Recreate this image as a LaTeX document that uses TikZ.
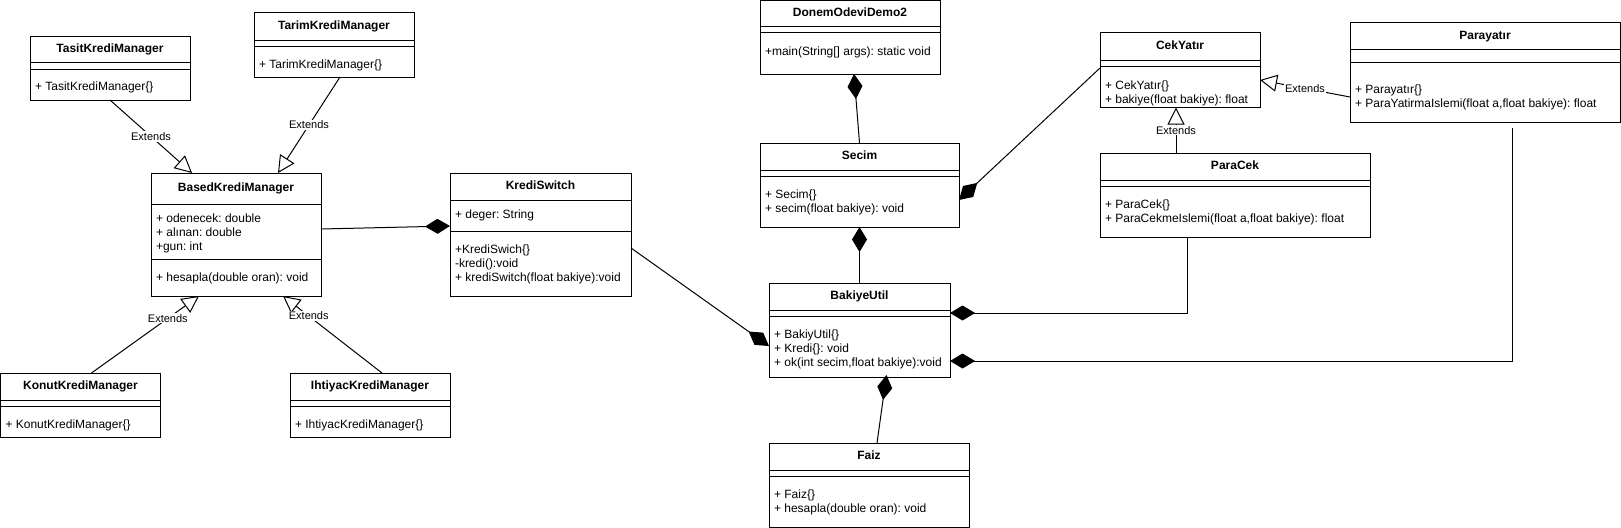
\documentclass[tikz,border=0pt]{standalone}
\usepackage{fontspec}
\setmainfont{Liberation Sans}
\usetikzlibrary{shapes.multipart, arrows.meta, calc}
\frenchspacing

% parts of a class box: title, empty part, body (height, top pad, lines)
\newcommand{\ctitle}[2]{\parbox[c][#1pt][c]{\cw}{\centering\bfseries\strut #2}}
\newcommand{\cempty}[1]{\parbox[c][#1pt]{\cw}{}}
\newcommand{\cbody}[3]{\parbox[c][#1pt][t]{\cw}{\raggedright\vspace*{#2pt}\strut #3}}

\begin{document}
\begin{tikzpicture}[x=1pt, y=-1pt, line width=1pt,
    font=\fontsize{12}{14}\selectfont,
    cls/.style={draw, rectangle split, rectangle split parts=3,
        inner xsep=5pt, inner ysep=0pt, outer sep=0pt, anchor=north west,
        /utils/exec={\def\cw{\dimexpr#1pt-10pt\relax}}},
    ext/.style={-{Triangle[open, length=17pt, width=17pt]}},
    comp/.style={{Diamond[length=25pt, width=15pt]}-},
    lbl/.style={fill=white, inner sep=1pt, font=\fontsize{11}{13}\selectfont}]
    \useasboundingbox (0,0) rectangle (1621,527);

    \node[cls=160] (tasit) at (30,37) {\ctitle{25}{TasitKrediManager}\nodepart{two}\cempty{4}\nodepart{three}\cbody{30}{11.2}{+ TasitKrediManager\{\}}};
    \node[cls=160] (tarim) at (254,13) {\ctitle{27}{TarimKrediManager}\nodepart{two}\cempty{4}\nodepart{three}\cbody{29}{11.2}{+ TarimKrediManager\{\}}};
    \node[cls=170] (bkm) at (151,173) {\ctitle{30}{BasedKrediManager}\nodepart{two}\cbody{54}{8.2}{+ odenecek: double\\+ alınan: double\\+gun: int}\nodepart{three}\cbody{36}{12.2}{+ hesapla(double oran): void}};
    \node[cls=160] (konut) at (0.5,373) {\ctitle{26}{KonutKrediManager}\nodepart{two}\cempty{4}\nodepart{three}\cbody{30}{12.2}{+ KonutKrediManager\{\}}};
    \node[cls=160] (iht) at (290,373) {\ctitle{26}{IhtiyacKrediManager}\nodepart{two}\cempty{4}\nodepart{three}\cbody{30}{12.2}{+ IhtiyacKrediManager\{\}}};
    \node[cls=181] (ks) at (450,173) {\ctitle{26}{KrediSwitch}\nodepart{two}\cbody{30}{8.2}{+ deger: String}\nodepart{three}\cbody{64}{12.2}{+KrediSwich\{\}\\-kredi():void\\+ krediSwitch(float bakiye):void}};
    \node[cls=180] (dem) at (760,0.5) {\ctitle{25.5}{DonemOdeviDemo2}\nodepart{two}\cempty{4}\nodepart{three}\cbody{40}{12.2}{+main(String[] args): static void}};
    \node[cls=199] (sec) at (760,143) {\ctitle{26}{Secim}\nodepart{two}\cempty{4}\nodepart{three}\cbody{50}{12.2}{+ Secim\{\}\\+ secim(float bakiye): void}};
    \node[cls=181] (bu) at (769,283) {\ctitle{26}{BakiyeUtil}\nodepart{two}\cempty{4}\nodepart{three}\cbody{60}{12.2}{+ BakiyUtil\{\}\\+ Kredi\{\}: void\\+ ok(int secim,float bakiye):void}};
    \node[cls=200] (fz) at (769,443) {\ctitle{26}{Faiz}\nodepart{two}\cempty{4}\nodepart{three}\cbody{50}{12.2}{+ Faiz\{\}\\+ hesapla(double oran): void}};
    \node[cls=160] (cek) at (1100,33) {\ctitle{27}{CekYatır}\nodepart{two}\cempty{3}\nodepart{three}\cbody{40}{12.2}{+ CekYatır\{\}\\+ bakiye(float bakiye): float}};
    \node[cls=270] (pc) at (1100,153) {\ctitle{26}{ParaCek}\nodepart{two}\cempty{4}\nodepart{three}\cbody{50}{12.2}{+ ParaCek\{\}\\+ ParaCekmeIslemi(float a,float bakiye): float}};
    \node[cls=270] (py) at (1350,23) {\ctitle{26}{Parayatır}\nodepart{two}\cempty{12}\nodepart{three}\cbody{58}{20.2}{+ Parayatır\{\}\\+ ParaYatirmaIslemi(float a,float bakiye): float}};

    \draw
    (tasit.south) edge[ext] node[lbl]{Extends} ($(bkm.north west)+(41,0)$)
    ($(tarim.south)+(6,0)$) edge[ext] node[lbl]{Extends} ($(bkm.north west)+(127,0)$)
    ($(konut.north west)+(91,0)$) edge[ext] node[lbl, pos=0.71]{Extends} ($(bkm.south west)+(48,0)$)
    ($(iht.north west)+(92,0)$) edge[ext] node[lbl, pos=0.74]{Extends} ($(bkm.south west)+(132,0)$)
    ($(pc.north west)+(76,0)$) edge[ext] node[lbl]{Extends} ($(cek.south west)+(76,0)$)
    ($(py.north west)+(0,74)$) edge[ext] node[lbl]{Extends} ($(cek.north east)+(0,47)$);

    \draw
    ($(ks.north west)+(0,53)$) edge[comp] ($(bkm.north east)+(0,56)$)
    ($(dem.south)+(4,0)$) edge[comp] (sec.north)
    (sec.south) edge[comp] (sec.south |- bu.north)
    ($(sec.north east)+(0,57)$) edge[comp] ($(cek.north west)+(0,35)$)
    ($(bu.north west)+(0,63)$) edge[comp] ($(ks.north east)+(0,75)$)
    ($(bu.north)+(27,92)$) edge[comp] ($(fz.north)+(8,0)$);
    \draw[comp] ($(bu.north east)+(0,30)$) -| ($(pc.south)+(-48,0)$);
    \coordinate (pyend) at ($(py.south)+(27,6)$);
    \draw[comp] ($(bu.north east)+(0,78)$) -| (pyend);
\end{tikzpicture}
\end{document}
